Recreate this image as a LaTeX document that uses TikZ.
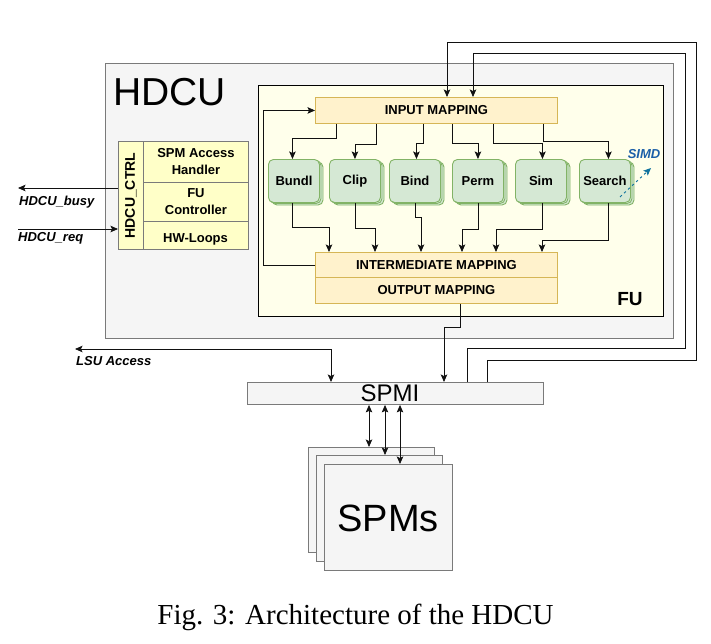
\documentclass[tikz,border=0pt]{standalone}
\usepackage{fontspec}
\setmainfont{Liberation Sans}
\newfontfamily\capfont{Liberation Serif}
\usetikzlibrary{arrows.meta,calc}
\definecolor{hdcufill}{HTML}{F5F5F5}
\definecolor{hdcudraw}{HTML}{7A7A7A}
\definecolor{fufill}{HTML}{FFFFEB}
\definecolor{mapfill}{HTML}{FFF2CC}
\definecolor{mapdraw}{HTML}{D6B656}
\definecolor{blkfill}{HTML}{D5E8D4}
\definecolor{blkdraw}{HTML}{82B366}
\definecolor{ctrlfill}{HTML}{FFFFC8}
\definecolor{simdtext}{HTML}{1B5FA8}
\definecolor{simdarrow}{HTML}{10739E}
\definecolor{wire}{HTML}{111111}
\tikzset{
  lbl/.style={font=\fontsize{13}{17}\selectfont\bfseries, inner sep=0pt, align=center},
  mapbox/.style={draw=mapdraw, fill=mapfill, line width=0.9pt, minimum width=242pt, inner sep=0pt, anchor=north west, lbl},
  blkshape/.style={draw=blkdraw, fill=blkfill, line width=0.9pt, rounded corners=5pt},
  blk/.style={blkshape, minimum width=51pt, minimum height=43pt, inner sep=0pt, anchor=north west, lbl},
  ctrlbox/.style={draw=hdcudraw, fill=ctrlfill, line width=0.9pt, inner sep=0pt, anchor=north west},
  graybox/.style={draw=hdcudraw, fill=hdcufill, line width=0.9pt, inner sep=0pt, anchor=north west},
  tip/.tip={Stealth[length=7.5pt,width=6.5pt,inset=1.5pt]},
  arr/.style={draw=wire, line width=0.85pt, -tip},
  dblarr/.style={draw=wire, line width=0.85pt, tip-tip},
  sig/.style={font=\fontsize{13}{15}\selectfont\bfseries\itshape, inner sep=0pt},
  simdarr/.style={draw=simdarrow, line width=0.9pt, dash pattern=on 2.5pt off 3pt, -{Stealth[length=7.5pt,width=6.5pt,inset=1.5pt]}},
}
\newcommand\fublock[4]{%
  \path[blkshape] (#2+4,#3+3) rectangle ++(51,43);
  \path[blkshape] (#2+2,#3+1.5) rectangle ++(51,43);
  \node[blk] (#1) at (#2,#3) {#4};
}
\begin{document}
\begin{tikzpicture}[x=1pt,y=-1pt]
\useasboundingbox (0,0) rectangle (711,643);

% HDCU outer box
\node[graybox, minimum width=568pt, minimum height=275pt] (hdcu) at (105,63) {};
\node[font=\fontsize{39}{41}\selectfont, anchor=base west, inner sep=0pt] (hdcutxt) at (113,105) {HDCU};

% FU box
\node[draw=black, fill=fufill, line width=1pt, minimum width=405pt, minimum height=231pt, anchor=north west, inner sep=0pt] (fu) at (258,85) {};
\node[font=\fontsize{19}{21}\selectfont\bfseries, inner sep=0pt] (futxt) at (630,299) {FU};

% mappings
\node[mapbox, minimum height=26pt] (inp) at (315,97) {INPUT MAPPING};
\node[mapbox, minimum height=25pt] (inter) at (315,252) {INTERMEDIATE MAPPING};
\node[mapbox, minimum height=26pt] (outp) at (315,277) {OUTPUT MAPPING};

% functional blocks
\fublock{bundl}{268}{159}{Bundl}
\fublock{clip}{329}{159}{Clip}
\fublock{bind}{389}{159}{Bind}
\fublock{perm}{452}{159}{Perm}
\fublock{sim}{515}{159}{Sim}
\fublock{srch}{579}{159}{Search}

% input mapping -> blocks
\draw[arr] ([xshift=21]inp.south west) -- ++(0,15) -| ([xshift=-1.5]bundl.north);
\draw[arr] ([xshift=61]inp.south west) -- ++(0,21) -| (clip.north);
\draw[arr] ([xshift=108]inp.south west) -- ++(0,20) -| ([xshift=1.5]bind.north);
\draw[arr] ([xshift=137]inp.south west) -- ++(0,20) -| (perm.north);
\draw[arr] ([xshift=178]inp.south west) -- ++(0,20) -| ([xshift=1.5]sim.north);
\draw[arr] ([xshift=228]inp.south west) -- ++(0,18) -| ([xshift=3.5]srch.north);

% blocks -> intermediate mapping
\draw[arr] ([xshift=-1.5]bundl.south) -- ++(0,25) -| ([xshift=14]inter.north west);
\draw[arr] (clip.south) -- ++(0,26) -| ([xshift=60]inter.north west);
\draw[arr] ([xshift=0.5]bind.south) -- ++(0,15) -| ([xshift=106]inter.north west);
\draw[arr] (perm.south) -- ++(0,27) -| ([xshift=147]inter.north west);
\draw[arr] ([xshift=1.5]sim.south) -- ++(0,27) -| ([xshift=181]inter.north west);
\draw[arr] ([xshift=3.5]srch.south) -- ++(0,38) -| ([xshift=227]inter.north west);

% feedback loop
\draw[arr] (inter.west) -- ++(-52,0) |- (inp.west);

% SIMD
\coordinate (simda) at (620,197);
\coordinate (simdb) at (651,168);
\draw[simdarr] (simda) -- (simdb);
\node[sig, text=simdtext] (simd) at (644,154) {SIMD};

% HDCU_CTRL
\node[ctrlbox, minimum width=25pt, minimum height=108pt] (ctrlcol) at (118,141) {};
\node[font=\fontsize{14}{16}\selectfont\bfseries, inner sep=0pt, rotate=90] (ctrllbl) at (ctrlcol.center) {HDCU\_CTRL};
\node[ctrlbox, lbl, minimum width=105pt, minimum height=41pt] (spmah) at (143,141) {SPM Access\\Handler};
\node[ctrlbox, lbl, minimum width=105pt, minimum height=39pt] (fuc) at (143,182) {FU\\Controller};
\node[ctrlbox, minimum width=105pt, minimum height=28pt] (hwl) at (143,221) {};
\node[lbl] (hwltxt) at (195.5,239) {HW-Loops};

% HDCU signals
\coordinate (busyend) at (18,188);
\coordinate (reqstart) at (18,229);
\draw[arr] (ctrlcol.west |- busyend) -- (busyend);
\draw[arr] (reqstart) -- (ctrlcol.west |- reqstart);
\node[sig, anchor=west] (busylbl) at (19,202) {HDCU\_busy};
\node[sig, anchor=west] (reqlbl) at (18,238) {HDCU\_req};

% SPMI
\node[graybox, minimum width=296pt, minimum height=22pt] (spmi) at (247,382) {};
\node[font=\fontsize{24}{28}\selectfont, anchor=base, inner sep=0pt] (spmitxt) at (390,401) {SPMI};

% output mapping -> SPMI
\draw[arr] ([xshift=145]outp.south west) -- ++(0,24) -| ([xshift=197]spmi.north west);

% LSU access
\coordinate (lsuend) at (75,349);
\draw[dblarr] ([xshift=84]spmi.north west) |- (lsuend);
\node[sig, anchor=west] (lsulbl) at (76,361) {LSU Access};

% SPMI -> input mapping (outer loops)
\coordinate (ra1) at (685,348);
\coordinate (ra2) at (473,53);
\coordinate (rb1) at (696,360);
\coordinate (rb2) at (447,42);
\draw[arr] ([xshift=220]spmi.north west) |- (ra1) |- (ra2) -- ([xshift=158]inp.north west);
\draw[arr] ([xshift=240]spmi.north west) |- (rb1) |- (rb2) -- ([xshift=132]inp.north west);

% SPMs stack
\node[graybox, minimum width=126pt, minimum height=105pt] (spmsc) at (308,447) {};
\node[graybox, minimum width=126pt, minimum height=106pt] (spmsb) at (316,455) {};
\node[graybox, minimum width=128pt, minimum height=106pt] (spmsa) at (324,464) {};
\node[font=\fontsize{38}{40}\selectfont, anchor=base, inner sep=0pt] (spmstxt) at (388,531) {SPMs};

\coordinate (s1) at ($(spmi.south west)+(122,0)$);
\coordinate (s2) at ($(spmi.south west)+(138,0)$);
\coordinate (s3) at ($(spmi.south west)+(153,0)$);
\draw[dblarr] (s1) -- (s1 |- spmsc.north);
\draw[dblarr] (s2) -- (s2 |- spmsb.north);
\draw[dblarr] (s3) -- (s3 |- spmsa.north);

% caption
\node[font=\capfont\fontsize{29}{33}\selectfont, anchor=base, inner sep=0pt] (cap) at (355.5,624) {Fig. 3: Architecture of the HDCU};
\end{tikzpicture}
\end{document}
